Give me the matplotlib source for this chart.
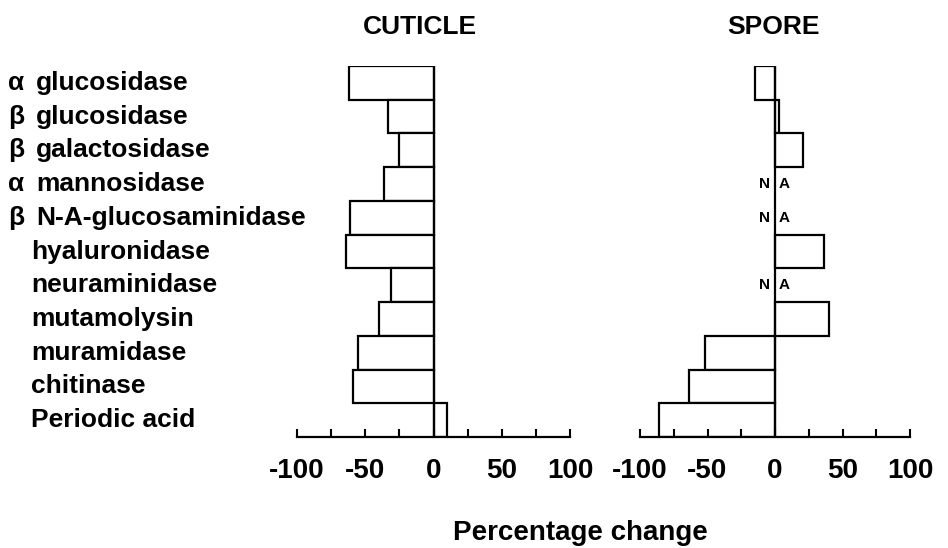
import matplotlib
matplotlib.use("Agg")
import matplotlib.pyplot as plt
import matplotlib.transforms as mtransforms
import numpy as np

plt.rcParams['font.family'] = ['Liberation Sans', 'DejaVu Sans']
plt.rcParams['font.weight'] = 'bold'

# enzyme treatments, top to bottom
prefixes = ["α", "β", "β", "α", "β", "", "", "", "", "", ""]
enzymes = ["glucosidase", "glucosidase", "galactosidase", "mannosidase",
           "N-A-glucosaminidase", "hyaluronidase", "neuraminidase",
           "mutamolysin", "muramidase", "chitinase", "Periodic acid"]

# percentage change (nan = not assayed, shown as "N A")
cuticle = [-62, -33, -25, -36, -61, -64, -31, -40, -55, -59, 10]
spore = [-15, 3, 21, np.nan, np.nan, 36, np.nan, 40, -52, -64, -86]

xticks = [-100, -75, -50, -25, 0, 25, 50, 75, 100]
xticklabels = ["-100", "", "-50", "", "0", "", "50", "", "100"]

W, H = 948, 548
fig = plt.figure(figsize=(W / 100, H / 100), dpi=100)

y = np.arange(len(enzymes))[::-1]


def panel(left_px, right_px, values):
    ax = fig.add_axes([left_px / W, 1 - 437 / H, (right_px - left_px) / W, (437 - 66) / H])
    vals = np.array(values, dtype=float)
    ok = ~np.isnan(vals)
    ax.barh(y[ok], vals[ok], height=1.0, color="white", edgecolor="black", linewidth=1.6)
    ax.axvline(0, color="black", linewidth=1.6)
    for yi, v in zip(y, vals):
        if np.isnan(v):
            ax.text(-4, yi, "N", ha="right", va="center", fontsize=11)
            ax.text(3, yi, "A", ha="left", va="center", fontsize=11)
    ax.set_xlim(-100, 100)
    ax.set_ylim(-0.5, len(enzymes) - 0.5)
    for s in ["top", "right", "left"]:
        ax.spines[s].set_visible(False)
    ax.spines["bottom"].set_linewidth(1.6)
    ax.set_yticks([])
    ax.set_xticks(xticks)
    ax.set_xticklabels(xticklabels, fontsize=20)
    ax.tick_params(axis="x", direction="in", length=6, width=1.5, pad=15)
    return ax


ax1 = panel(297, 570, cuticle)
ax2 = panel(640, 910, spore)

fig.text(420 / W, 1 - 27 / H, "CUTICLE", ha="center", va="center", fontsize=19)
fig.text(773 / W, 1 - 27 / H, "SPORE", ha="center", va="center", fontsize=19)

trans = mtransforms.blended_transform_factory(fig.transFigure, ax1.transData)
for yi, p, name in zip(y, prefixes, enzymes):
    if p:
        fig.text(8 / W, yi, p, transform=trans, ha="left", va="center", fontsize=19)
        fig.text(36 / W, yi, name, transform=trans, ha="left", va="center", fontsize=19)
    else:
        fig.text(31 / W, yi, name, transform=trans, ha="left", va="center", fontsize=19)

fig.text(580 / W, 1 - 533 / H, "Percentage change", ha="center", va="center", fontsize=20)

fig.savefig("out.png", dpi=100)
